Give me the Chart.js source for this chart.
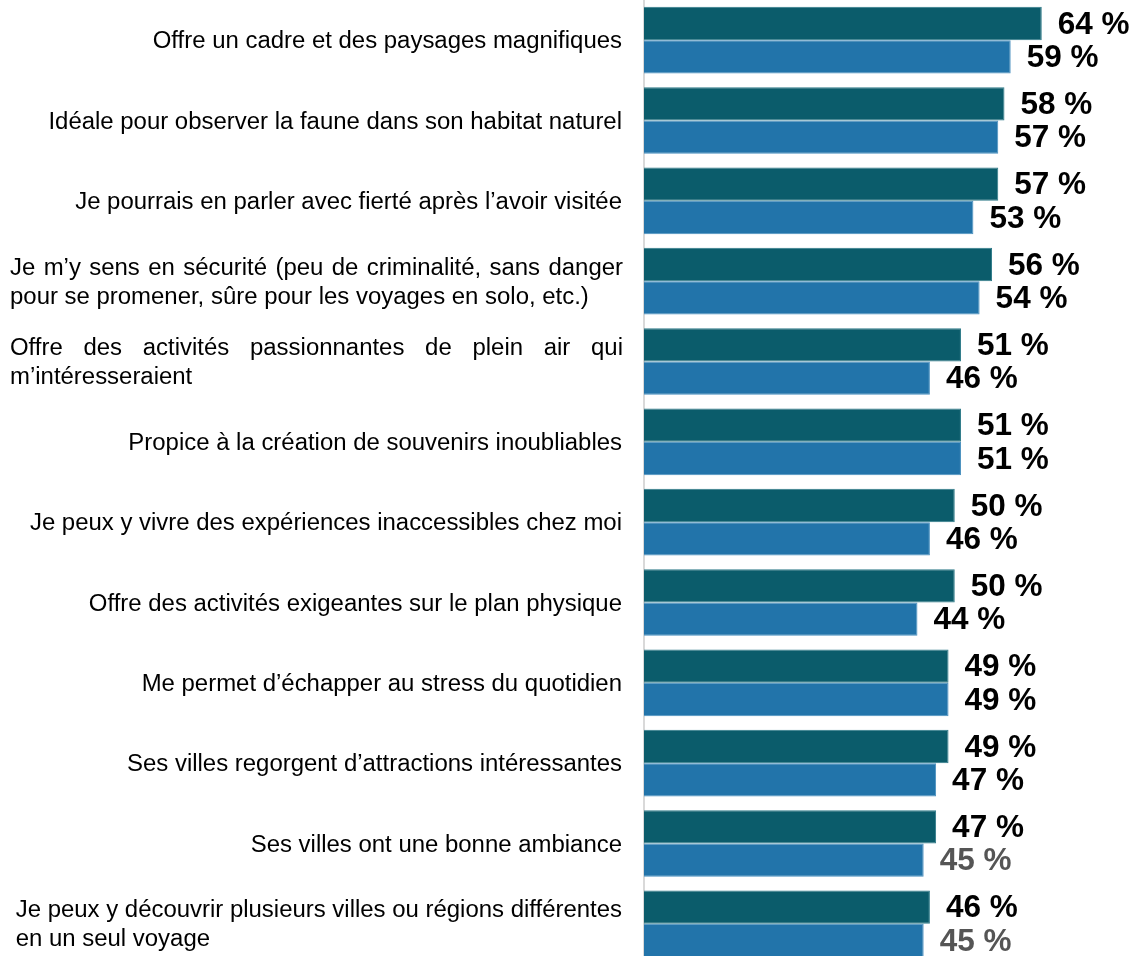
<!DOCTYPE html>
<html><head><meta charset="utf-8">
<script src="https://cdn.jsdelivr.net/npm/chart.js@4/dist/chart.umd.min.js"></script>
<style>html,body{margin:0;padding:0;background:#fff;overflow:hidden;} #wrap{position:relative;width:1135px;height:964px;}</style>
</head><body><div id="wrap"><canvas id="c"></canvas></div>
<script>
// ---- data ----
const categories = [
  ["Offre un cadre et des paysages magnifiques"],
  ["Idéale pour observer la faune dans son habitat naturel"],
  ["Je pourrais en parler avec fierté après l’avoir visitée"],
  ["Je m’y sens en sécurité (peu de criminalité, sans danger", "pour se promener, sûre pour les voyages en solo, etc.)"],
  ["Offre des activités passionnantes de plein air qui", "m’intéresseraient"],
  ["Propice à la création de souvenirs inoubliables"],
  ["Je peux y vivre des expériences inaccessibles chez moi"],
  ["Offre des activités exigeantes sur le plan physique"],
  ["Me permet d’échapper au stress du quotidien"],
  ["Ses villes regorgent d’attractions intéressantes"],
  ["Ses villes ont une bonne ambiance"],
  ["Je peux y découvrir plusieurs villes ou régions différentes", "en un seul voyage"]
];
const seriesA = [64, 58, 57, 56, 51, 51, 50, 50, 49, 49, 47, 46];
const seriesB = [59, 57, 53, 54, 46, 51, 46, 44, 49, 47, 45, 45];
const mutedB  = [false, false, false, false, false, false, false, false, false, false, true, true];
const seriesNames = ["Série A", "Série B"];

// ---- style ----
const COLOR_A = "#0b5c6b";
const COLOR_B = "#2274aa";
const LABEL_FONT = '23.95px "Liberation Sans", Arial, sans-serif';
const VALUE_FONT = 'bold 31.5px "Liberation Sans", Arial, sans-serif';
const JUSTIFIED = new Set([3, 4]);

const valueLabels = {
  id: "valueLabels",
  afterDatasetsDraw(chart) {
    const ctx = chart.ctx;
    ctx.save();
    ctx.font = VALUE_FONT;
    ctx.textAlign = "left";
    ctx.textBaseline = "middle";
    chart.data.datasets.forEach((ds, di) => {
      const meta = chart.getDatasetMeta(di);
      meta.data.forEach((bar, i) => {
        const muted = di === 1 && mutedB[i];
        ctx.fillStyle = muted ? "#555555" : "#000000";
        ctx.fillText(ds.data[i] + "\u00a0%", bar.x + 16, bar.y + 1.5);
      });
    });
    ctx.restore();
  }
};

const categoryLabels = {
  id: "categoryLabels",
  afterDraw(chart) {
    const ctx = chart.ctx;
    const y = chart.scales.y;
    const RIGHT = 622, LEFT = 10, LH = 29;
    ctx.save();
    ctx.font = LABEL_FONT;
    ctx.fillStyle = "#000000";
    ctx.textBaseline = "middle";
    chart.data.labels.forEach((lines, i) => {
      const cy = y.getPixelForValue(i) + 1.5;
      const n = lines.length;
      const y0 = cy - (n - 1) * LH / 2;
      if (n === 1) {
        ctx.textAlign = "right";
        ctx.fillText(lines[0], RIGHT, cy);
        return;
      }
      ctx.textAlign = "left";
      if (JUSTIFIED.has(i)) {
        lines.forEach((line, li) => {
          const ly = y0 + li * LH;
          if (li === n - 1) { ctx.fillText(line, LEFT, ly); return; }
          const words = line.split(" ");
          const wordsW = words.reduce((s, w) => s + ctx.measureText(w).width, 0);
          const gap = (RIGHT + 1 - LEFT - wordsW) / (words.length - 1);
          let x = LEFT;
          words.forEach(w => { ctx.fillText(w, x, ly); x += ctx.measureText(w).width + gap; });
        });
      } else {
        const maxW = Math.max(...lines.map(l => ctx.measureText(l).width));
        const x0 = RIGHT - maxW;
        lines.forEach((line, li) => ctx.fillText(line, x0, y0 + li * LH));
      }
    });
    ctx.restore();
  }
};

new Chart(document.getElementById("c"), {
  type: "bar",
  data: {
    labels: categories,
    datasets: [
      { label: seriesNames[0], data: seriesA, backgroundColor: COLOR_A, borderColor: "#2e7a88", borderWidth: 1,
        categoryPercentage: 0.83, barPercentage: 1 },
      { label: seriesNames[1], data: seriesB, backgroundColor: COLOR_B, borderColor: "#4a90bf", borderWidth: 1,
        categoryPercentage: 0.83, barPercentage: 1 }
    ]
  },
  options: {
    indexAxis: "y",
    responsive: true,
    maintainAspectRatio: false,
    devicePixelRatio: 1,
    animation: false,
    layout: { padding: 0 },
    plugins: { legend: { display: false }, tooltip: { enabled: false } },
    scales: {
      x: { display: false, min: 0, max: 79 },
      y: {
        display: true,
        ticks: { display: false },
        grid: { display: false },
        border: { display: true, color: "#d9d9d9", width: 2 },
        afterFit(scale) { scale.width = 644; }
      }
    }
  },
  plugins: [valueLabels, categoryLabels]
});
</script>
</body></html>
